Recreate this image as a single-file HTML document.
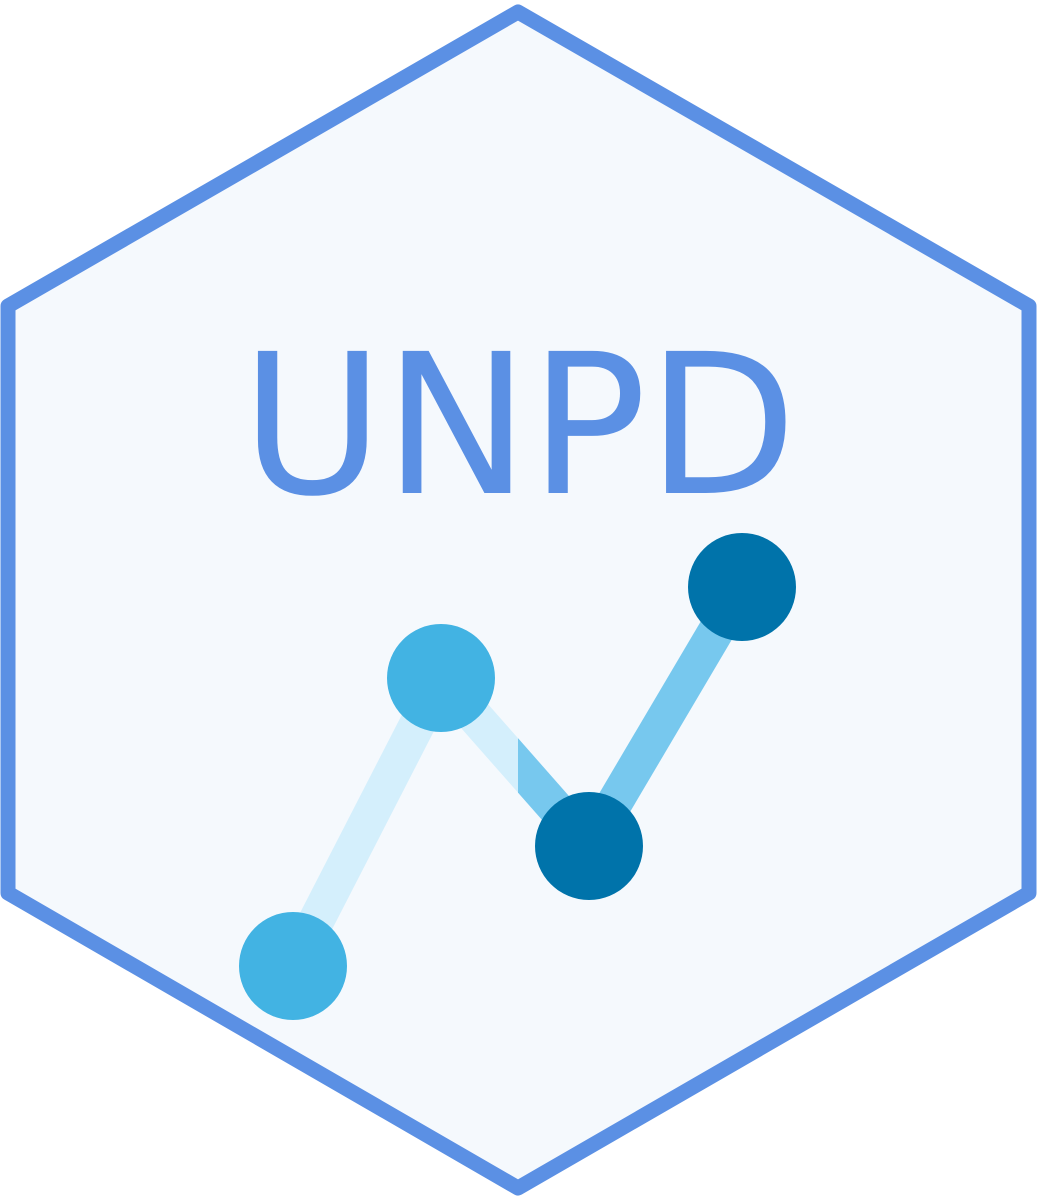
<!DOCTYPE html>
<html><head><style>html,body{margin:0;padding:0;background:#fff;}svg{display:block;}</style></head>
<body>
<svg width="1037" height="1200" viewBox="0 0 1037 1200" xmlns="http://www.w3.org/2000/svg">
<defs><clipPath id="c"><rect x="518" y="600" width="200" height="300"/></clipPath></defs>
<polygon points="518,12 1029,306 1029,893 518,1188 8,893 8,306" fill="#f5f9fd" stroke="#5b90e4" stroke-width="15" stroke-linejoin="round"/>
<text x="519" y="493" text-anchor="middle" font-family="DejaVu Sans, Liberation Sans, sans-serif" font-size="195" fill="#5b90e4" textLength="556" lengthAdjust="spacingAndGlyphs">UNPD</text>
<line x1="293" y1="966" x2="441" y2="678" stroke="#d4effc" stroke-width="36"/>
<line x1="441" y1="678" x2="589" y2="846" stroke="#d4effc" stroke-width="36"/>
<line x1="441" y1="678" x2="589" y2="846" stroke="#77c8ee" stroke-width="36" clip-path="url(#c)"/>
<line x1="589" y1="846" x2="742" y2="587" stroke="#77c8ee" stroke-width="36"/>
<circle cx="293" cy="966" r="54" fill="#42b3e3"/>
<circle cx="441" cy="678" r="54" fill="#42b3e3"/>
<circle cx="589" cy="846" r="54" fill="#0073aa"/>
<circle cx="742" cy="587" r="54" fill="#0073aa"/>
</svg>
</body></html>
